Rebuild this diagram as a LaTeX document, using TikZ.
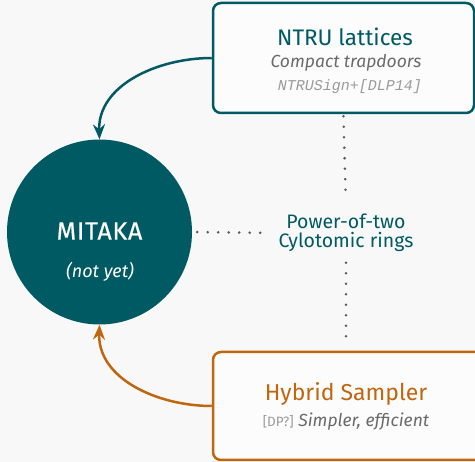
\documentclass[tikz,border=0pt]{standalone}
\usepackage{fontspec}
\setmainfont{Fira Sans}
\setmonofont{Liberation Mono}
\newfontfamily\mtkfont[FakeBold=0.6,LetterSpace=3]{Fira Sans}
\usetikzlibrary{arrows.meta,positioning}
\definecolor{mtteal}{HTML}{005A63}
\definecolor{mtorange}{HTML}{C0660E}
\definecolor{mtgray}{HTML}{6A6A6A}
\definecolor{mtdot}{HTML}{5A5A5A}
\definecolor{mtlight}{HTML}{9A9A9A}
\definecolor{mtbg}{HTML}{F8F8F8}
\tikzset{
  box/.style={line width=2.5pt,rounded corners=8pt,fill=white!60!mtbg,
    minimum width=261pt,minimum height=110pt,inner sep=0pt},
  dots/.style={line width=2.8pt,mtdot,line cap=round,dash pattern=on 0pt off 10.5pt},
  link/.style={line width=2.5pt,-{Stealth[length=15pt,width=12pt,inset=5pt]}},
}
\newcommand{\fsz}[1]{\fontsize{#1}{#1}\selectfont}

\begin{document}
\begin{tikzpicture}[x=1pt,y=-1pt]
\fill [mtbg] (0,0) rectangle (475,462);
\useasboundingbox (0,0) rectangle (475,462);
\clip (0,0) rectangle (475,462);
% boxes and circle
\node [box,draw=mtteal] (ntru) at (343.5,58) {};
\node [box,draw=mtorange,minimum width=280pt,minimum height=108pt] (hybrid) at (353,406) {};
\node [circle,fill=mtteal,minimum size=185pt,inner sep=0pt] (mitaka) at (99.5,232) {};
% texts
\node [mtteal,font=\fsz{22.5}] (ntrutitle) at (345,37) {NTRU lattices};
\node [mtgray,font=\fsz{17.5}\itshape] (ntrusub) at (346,63) {Compact trapdoors};
\node [mtlight,font=\fsz{15}\ttfamily\itshape] (ntruref) at (350,87) {NTRUSign+[DLP14]};
\node [white,font=\fsz{25}\mtkfont] (mitakaname) at (99.5,231) {MITAKA};
\node [white,font=\fsz{18}\itshape] (mitakanote) at (100,272) {(not yet)};
\node [mtteal,font=\fsz{19.5},align=center,inner sep=2pt] (rings) at (346,233)
  {Power-of-two\\[-1pt]Cylotomic rings};
\node [mtorange,font=\fsz{23}] (hybridtitle) at (346,394) {Hybrid Sampler};
\node [mtgray,font=\fsz{17.5}] (hybridsub) at (346,422)
  {{\color{mtlight}\fsz{13.5}[DP?]} \textit{Simpler, efficient}};
% connectors
\draw [link,mtteal] (ntru.west) to [out=180,in=92] (mitaka.north);
\draw [link,mtorange] (hybrid.west) to [out=180,in=-92] (mitaka.south);
\draw [dots,shorten <=5pt,shorten >=12pt] (mitaka.east) -- (rings.west);
\draw [dots,shorten <=2pt,shorten >=12pt] (ntru.south) -- (rings.north);
\draw [dots,shorten <=9pt,shorten >=5pt] (rings.south) -- (hybrid.north -| rings.south);
\end{tikzpicture}
\end{document}
